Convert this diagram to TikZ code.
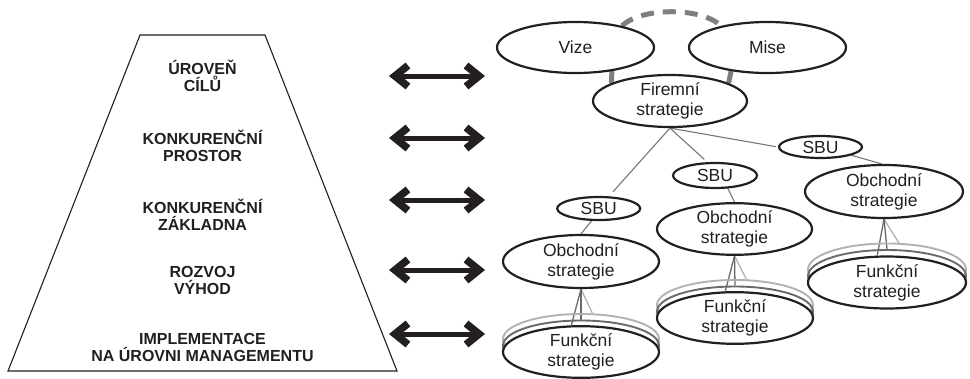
\documentclass[tikz,border=0pt]{standalone}
\usepackage{fontspec}
\setmainfont{Liberation Sans}
\usetikzlibrary{arrows.meta,shapes.geometric}
\pgfdeclarelayer{bg}
\pgfsetlayers{bg,main}
\definecolor{ink}{HTML}{231F20}
\definecolor{linkgray}{HTML}{777777}
\definecolor{bondgray}{HTML}{7F7F7F}
\definecolor{discmid}{HTML}{6A6A6A}
\definecolor{discback}{HTML}{B2B2B2}
\tikzset{
  oval/.style={ellipse, draw=ink, line width=2.2pt, fill=white, inner sep=0pt,
    align=center, text=ink, font=\fontsize{17.5}{20}\selectfont},
  disc/.style={ellipse, line width=1.9pt, inner sep=0pt},
  level/.style={align=center, text=ink, font=\bfseries\fontsize{16}{17}\selectfont},
  link/.style={draw=linkgray, line width=1.1pt},
  bond/.style={draw=bondgray, line width=5pt},
  chevron/.tip={Straight Barb[length=13pt,width=21pt,line width=7.5pt,line cap=butt,line join=miter]},
  twoway/.style={draw=ink, line width=5pt, chevron-chevron},
}
\begin{document}
\begin{tikzpicture}[x=1pt,y=-1pt]
\useasboundingbox (0,0) rectangle (970,378);

% ---- pyramid of levels ----
\draw[ink, line width=1.1pt] (140,35) -- (265,35) -- (397,371) -- (8,371) -- cycle;
\node[level] (lv1) at (202.5,76)  {ÚROVEŇ\\CÍLŮ};
\node[level] (lv2) at (202.5,146) {KONKURENČNÍ\\PROSTOR};
\node[level] (lv3) at (202.5,215) {KONKURENČNÍ\\ZÁKLADNA};
\node[level] (lv4) at (202.5,280) {ROZVOJ\\VÝHOD};
\node[level] (lv5) at (202.5,347) {IMPLEMENTACE\\NA ÚROVNI MANAGEMENTU};

% ---- two-way arrows ----
\foreach \i/\y in {1/76,2/138,3/200,4/270,5/334}{
  \coordinate (al\i) at (389,\y);
  \coordinate (ar\i) at (485,\y);
  \draw[twoway] (al\i) -- (ar\i);
}

% ---- vision, mission, corporate strategy ----
\node[oval, minimum width=157pt, minimum height=51pt] (vize) at (575.5,47.5) {Vize};
\node[oval, minimum width=157pt, minimum height=51pt] (mise) at (767.5,47.5) {Mise};
\node[oval, minimum width=154pt, minimum height=52pt] (firm) at (670,101) {Firemní\\strategie};

% ---- business units ----
\node[oval, minimum width=83pt, minimum height=23pt] (sbu1) at (598.7,208.5) {SBU};
\node[oval, minimum width=84pt, minimum height=25pt] (sbu2) at (715,175.5) {SBU};
\node[oval, minimum width=83pt, minimum height=22pt] (sbu3) at (820.5,147) {SBU};

\node[oval, minimum width=156pt, minimum height=53pt] (ob1) at (581,261.5) {Obchodní\\strategie};
\node[oval, minimum width=155pt, minimum height=50pt] (ob2) at (734.5,229) {Obchodní\\strategie};
\node[oval, minimum width=158pt, minimum height=53pt] (ob3) at (884,191.5) {Obchodní\\strategie};

% ---- functional strategy stacks (back, middle, front) ----
\foreach \k/\x/\y/\w/\h in {1/581/352/156/50, 2/735/318/156/50, 3/887/282.5/158/52}{
  \node[disc, draw=discback, minimum width=\w pt, minimum height=\h pt] (fb\k) at (\x,\y-13) {};
  \node[disc, draw=discmid,  minimum width=\w pt, minimum height=\h pt] (fm\k) at (\x,\y-6.5) {};
  \node[oval, minimum width=\w pt, minimum height=\h pt] (ff\k) at (\x,\y) {Funkční\\strategie};
}

% ---- connectors ----
\begin{pgfonlayer}{bg}
  \draw[bond, dash pattern=on 13pt off 9pt] (vize.25) .. controls (642,7) and (701,7) .. (mise.155);
  \draw[bond] (vize.-33) -- (firm.163);
  \draw[bond] (mise.213) -- (firm.17);

  \draw[link, shorten >=6pt] (firm.south) -- (sbu1.50);
  \draw[link, shorten >=4pt] (firm.south) -- (sbu2.120);
  \draw[link, shorten >=2pt] (firm.south) -- (sbu3.west);

  \draw[link] (sbu1.-120) -- (ob1.north);
  \draw[link] (sbu2.-45) -- (ob2.north);
  \draw[link] (sbu3.-15) -- (ob3.95);

  \foreach \k in {1,2,3}{
    \draw[draw=discback, line width=1.3pt] (ob\k.south) -- (fb\k.66);
    \draw[draw=discmid, line width=1.3pt] (ob\k.south) -- (fm\k.north);
    \draw[draw=discmid, line width=1.3pt] (ob\k.south) -- (ff\k.110);
  }
\end{pgfonlayer}
\end{tikzpicture}
\end{document}
